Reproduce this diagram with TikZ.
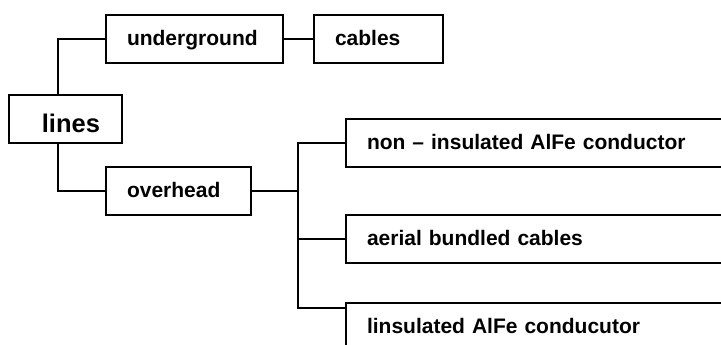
\documentclass[tikz,border=0pt]{standalone}
\usepackage{fontspec}
\setmainfont{Liberation Sans}
\usetikzlibrary{calc}

\begin{document}
\begin{tikzpicture}[x=1pt,y=-1pt,line width=1.9pt,
  box/.style={draw,minimum height=48pt,inner xsep=21pt,inner ysep=0pt,align=left,text height=17pt,text depth=4pt,font=\fontsize{21}{25}\selectfont\bfseries}]
\useasboundingbox (0,0) rectangle (721,345);
\clip (0,0) rectangle (721,345);

\node[box,text width=69pt,inner xsep=22pt,align=right,text height=26pt,text depth=0pt,font=\fontsize{25.5}{30}\selectfont\bfseries] (lines) at (65.5,119) {lines};
\node[box,text width=135pt] (underground) at (194.5,39) {underground};
\node[box,text width=87pt] (cables) at (378.5,39) {cables};
\node[box,text width=103pt] (overhead) at (178.5,191) {overhead};
\node[box,text width=372pt] (noninsulated) at (553,143) {non -- insulated AlFe conductor};
\node[box,text width=372pt] (aerial) at (553,239) {aerial bundled cables};
\node[box,text width=372pt] (insulated) at (553,327) {linsulated AlFe conducutor};

\coordinate (lfork) at (58,119);
\coordinate (rfork) at (298,191);

\draw (lines.north -| lfork) |- (underground.west);
\draw (lines.south -| lfork) |- (overhead.west);
\draw (underground) -- (cables);
\draw (overhead) -- (rfork);
\draw (rfork) |- (noninsulated.west);
\draw (rfork) |- (aerial.west);
\draw (rfork) |- ($(insulated.north west)+(0,6)$);
\end{tikzpicture}
\end{document}
